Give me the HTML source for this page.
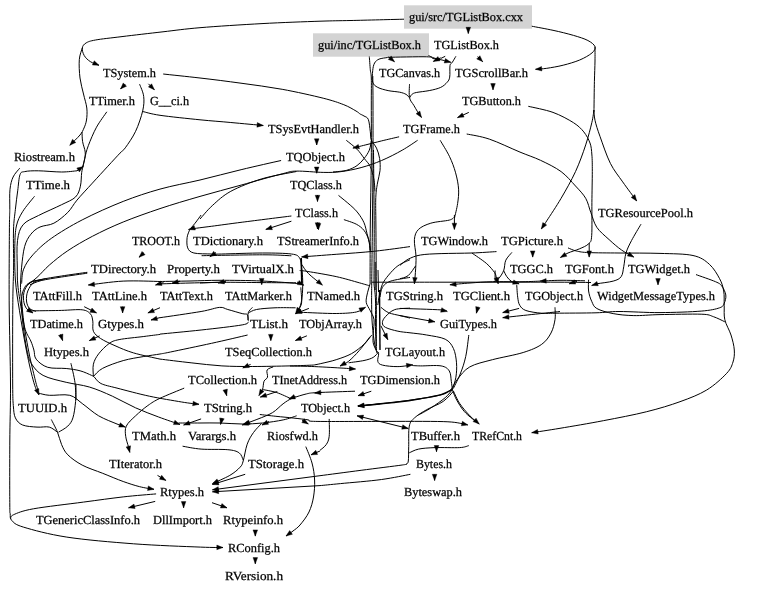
<!DOCTYPE html>
<html><head><meta charset="utf-8"><title>TGListBox dependency graph</title>
<style>html,body{margin:0;padding:0;background:#fff}svg{display:block;will-change:transform}text{text-rendering:geometricPrecision;stroke:#000;stroke-width:0.25px}text{font-family:"Liberation Serif",serif;font-size:12.4px;fill:#000}</style></head><body>
<svg width="779" height="592" viewBox="0 0 779 592">
<rect width="779" height="592" fill="#fff"/>
<rect x="404" y="5.3" width="128" height="23.4" fill="#d3d3d3"/>
<rect x="313" y="33.3" width="116" height="23.4" fill="#d3d3d3"/>
<g fill="none" stroke="#000" stroke-width="1.0">
<path d="M404.0,19.2 C395.2,19.4 365.0,20.2 351.0,20.5 C337.0,20.8 334.8,20.7 320.0,21.2 C305.2,21.7 282.0,22.5 262.0,23.6 C242.0,24.7 216.5,26.3 200.0,27.7 C183.5,29.1 176.0,30.3 163.0,31.8 C150.0,33.3 133.2,35.2 122.0,36.6 C110.8,38.0 101.5,38.9 95.5,40.0 C89.5,41.1 88.2,41.7 86.0,43.0 C83.8,44.3 82.6,45.9 82.3,48.0 C82.0,50.1 82.9,53.2 84.2,55.5 C85.5,57.8 87.8,60.0 90.3,61.6 C92.8,63.2 97.5,64.7 99.0,65.3"/>
<path d="M82.3,48.0 C81.8,49.9 79.7,54.6 79.3,59.6 C78.9,64.6 79.3,72.3 80.0,78.0 C80.7,83.7 82.4,89.0 83.5,94.0 C84.6,99.0 86.3,103.7 86.8,108.0 C87.3,112.3 87.0,116.7 86.5,120.0 C86.0,123.3 85.1,125.5 84.0,128.0 C82.9,130.5 82.4,132.1 80.0,135.0 C77.6,137.9 71.5,143.6 69.8,145.3"/>
<path d="M82.0,132.0 C82.1,133.6 82.1,138.3 82.6,141.6 C83.1,144.9 84.9,148.9 85.2,152.0 C85.5,155.1 85.0,157.5 84.5,160.0 C84.0,162.5 82.8,165.8 82.5,167.0"/>
<path d="M125.2,84.2 L120.5,89.0"/>
<path d="M148.4,83.8 L154.4,89.8"/>
<path d="M163.2,74.0 C169.3,74.7 187.0,76.5 200.0,78.0 C213.0,79.5 227.3,81.3 241.0,83.2 C254.7,85.1 268.5,86.8 282.2,89.3 C295.9,91.8 312.9,95.6 323.2,98.2 C333.5,100.8 338.3,102.6 343.8,104.7 C349.3,106.8 353.3,109.5 356.0,111.0 C358.7,112.5 359.3,113.5 360.0,114.0"/>
<path d="M468.3,27.5 L468.3,33.5"/>
<path d="M388.7,56.8 L394.5,61.7"/>
<path d="M387.5,57.3 C394.0,57.2 419.0,56.6 426.6,56.8 C434.2,57.0 430.8,58.0 433.0,58.5 C435.2,59.0 438.8,59.8 440.0,60.0"/>
<path d="M440.7,57.8 L433.3,61.4"/>
<path d="M445.2,56.3 L440.7,58.5"/>
<path d="M428.5,55.5 C429.4,55.9 431.8,57.2 434.0,58.0 C436.2,58.8 439.2,59.3 442.0,60.0 C444.8,60.7 449.3,61.9 450.8,62.3"/>
<path d="M455.9,56.3 C455.3,57.3 453.3,60.8 452.3,62.3 C451.3,63.8 450.4,63.0 450.0,65.5 C449.6,68.0 450.2,74.3 449.7,77.1 C449.2,79.9 448.7,80.5 447.2,82.2 C445.7,83.9 443.7,86.0 440.7,87.4 C437.7,88.8 433.3,89.8 429.2,90.6 C425.1,91.4 419.2,91.9 416.3,92.5 C413.4,93.1 413.0,93.6 411.9,94.4 C410.8,95.2 410.2,97.1 409.9,97.6"/>
<path d="M387.5,57.5 C386.1,57.8 381.2,58.2 379.1,59.1 C377.0,60.0 375.7,61.1 374.6,63.0 C373.5,64.9 373.0,67.5 372.7,70.7 C372.4,73.9 371.8,79.4 372.7,82.2 C373.6,85.0 375.2,86.0 377.8,87.4 C380.4,88.8 384.5,89.8 388.1,90.6 C391.8,91.4 396.7,91.6 399.7,92.2 C402.7,92.8 404.5,93.5 406.1,94.4 C407.7,95.3 408.8,97.1 409.3,97.6"/>
<path d="M409.5,84.2 C409.5,86.4 408.8,94.1 409.5,97.6 C410.2,101.1 412.4,102.9 413.8,105.3 C415.2,107.7 416.3,109.8 417.6,111.8 C418.9,113.8 420.9,116.5 421.5,117.5"/>
<path d="M531.8,26.2 C535.3,26.9 546.0,28.8 553.0,30.3 C560.0,31.8 567.7,33.7 573.5,35.4 C579.3,37.1 584.3,38.6 587.9,40.5 C591.5,42.4 594.3,44.6 595.0,46.7 C595.7,48.8 594.5,50.7 592.0,52.9 C589.5,55.1 584.5,58.0 579.7,60.0 C574.9,62.0 568.7,63.8 563.2,65.2 C557.7,66.6 551.4,67.6 546.8,68.3 C542.2,69.0 537.4,69.1 535.5,69.3"/>
<path d="M595.0,46.7 C595.0,49.1 595.1,55.2 595.0,61.0 C594.9,66.8 594.6,73.7 594.4,81.6 C594.2,89.5 594.1,103.2 594.0,108.3 C593.9,113.4 593.9,111.4 593.9,112.0"/>
<path d="M477.6,56.6 L482.7,61.7"/>
<path d="M493.0,83.7 L493.0,89.8"/>
<path d="M468.8,112.4 L457.5,117.6"/>
<path d="M528.3,106.3 C532.4,107.3 545.5,109.7 553.0,112.4 C560.5,115.1 568.4,119.5 573.5,122.7 C578.6,126.0 581.0,128.5 583.8,131.9 C586.5,135.3 588.6,139.2 590.0,143.0 C591.4,146.8 591.5,150.2 591.9,155.0 C592.3,159.8 592.3,163.7 592.3,171.6 C592.3,179.5 592.0,191.8 591.9,202.4 C591.8,213.1 592.2,228.6 591.7,235.5 C591.2,242.4 590.7,241.6 588.6,243.8 C586.5,246.0 582.7,247.4 579.3,248.9 C575.9,250.4 571.1,251.6 568.0,253.0 C564.9,254.4 561.7,256.8 560.4,257.5"/>
<path d="M589.2,243.0 L589.2,257.1"/>
<path d="M593.9,110.0 C594.1,111.7 594.0,115.8 595.0,120.3 C596.0,124.8 597.5,129.5 600.1,136.7 C602.7,143.9 606.6,155.9 610.4,163.4 C614.2,170.9 618.3,175.6 622.7,181.9 C627.1,188.2 634.4,197.8 636.7,201.0"/>
<path d="M593.9,110.0 C593.6,112.0 593.3,116.5 591.9,122.3 C590.5,128.1 588.4,136.7 585.7,144.9 C583.0,153.1 579.6,162.7 575.5,171.6 C571.4,180.5 565.9,190.1 561.1,198.3 C556.3,206.5 550.0,215.8 546.7,220.9 C543.4,226.0 542.2,227.7 541.3,229.0"/>
<path d="M466.7,134.0 C470.5,134.8 480.4,136.1 489.3,139.1 C498.2,142.1 511.5,148.6 520.0,152.1 C528.5,155.6 533.6,157.1 540.5,160.3 C547.4,163.6 555.3,167.3 561.1,171.6 C566.9,175.9 571.4,181.6 575.5,186.0 C579.6,190.4 583.1,193.9 585.7,198.3 C588.3,202.8 589.0,207.9 590.9,212.7 C592.8,217.5 593.8,222.8 596.8,227.3 C599.8,231.8 605.0,235.8 609.1,239.6 C613.2,243.4 617.3,247.0 621.4,249.9 C625.5,252.8 631.7,255.9 633.8,257.1"/>
<path d="M641.0,224.2 C639.4,226.9 634.0,235.8 631.5,240.6 C629.0,245.4 627.3,248.7 626.0,253.0 C624.7,257.3 624.6,262.4 623.8,266.3 C623.0,270.2 623.0,274.1 621.2,276.6 C619.4,279.1 617.3,279.9 613.2,281.1 C609.1,282.3 600.4,283.1 596.8,283.8 C593.2,284.5 592.6,285.2 591.7,285.5"/>
<path d="M532.7,251.0 L532.7,257.1"/>
<path d="M568.0,247.9 C569.4,248.4 572.8,250.2 576.3,251.0 C579.8,251.8 581.9,252.3 589.0,252.6 C596.1,252.9 607.2,252.9 619.0,253.0 C630.8,253.1 647.7,253.0 660.0,253.4 C672.3,253.8 684.8,253.7 693.0,255.5 C701.2,257.3 705.0,260.4 709.4,264.3 C713.8,268.2 717.2,274.2 719.6,278.7 C722.0,283.1 722.9,286.6 723.7,291.0 C724.5,295.4 724.0,300.6 724.2,305.4 C724.4,310.2 723.7,314.8 724.8,319.7 C725.9,324.6 729.4,329.9 731.0,335.0 C732.6,340.1 734.0,345.5 734.3,350.0 C734.6,354.5 734.3,358.1 733.0,362.0 C731.7,365.9 731.1,368.6 726.7,373.3 C722.3,378.0 714.5,385.3 706.7,390.0 C698.9,394.7 690.0,398.1 680.0,401.7 C670.0,405.3 659.5,408.5 646.7,411.7 C633.9,414.9 617.8,417.9 603.3,420.7 C588.8,423.5 571.9,426.3 560.0,428.3 C548.1,430.3 536.4,432.0 531.7,432.7"/>
<path d="M696.0,274.6 C699.2,275.8 711.2,279.8 715.5,281.7 C719.8,283.6 720.0,283.7 721.7,285.9 C723.4,288.1 725.4,292.1 725.8,295.0 C726.2,297.9 725.2,301.2 724.2,303.3 C723.2,305.4 723.4,306.5 719.6,307.8 C715.8,309.1 711.1,310.3 701.2,311.1 C691.3,311.9 673.7,312.5 660.0,312.6 C646.3,312.7 629.7,311.5 619.0,311.5 C608.3,311.5 606.5,312.5 596.0,312.8 C585.5,313.1 564.8,313.1 555.7,313.2 C546.6,313.3 546.3,313.6 541.3,313.2 C536.3,312.8 529.5,311.8 525.9,310.5 C522.3,309.2 521.2,307.6 519.8,305.4 C518.4,303.2 518.2,300.6 517.7,297.2 C517.2,293.8 516.9,286.9 516.7,284.8"/>
<path d="M724.8,321.8 C722.9,320.9 717.4,318.0 713.5,316.7 C709.6,315.4 710.1,314.5 701.2,314.2 C692.3,313.9 671.2,314.4 660.0,314.6 C648.8,314.8 641.6,315.8 633.8,315.6 C626.0,315.4 619.4,314.8 613.2,313.6 C607.0,312.4 600.4,310.6 596.8,308.5 C593.2,306.4 593.1,304.2 591.7,301.3 C590.3,298.4 589.1,294.6 588.6,291.0 C588.1,287.4 588.6,281.6 588.6,279.7"/>
<path d="M658.0,279.0 L658.0,284.8"/>
<path d="M454.4,215.0 L454.4,229.4"/>
<path d="M454.4,217.0 C453.5,217.5 453.2,219.1 449.3,220.1 C445.4,221.1 435.9,221.6 430.8,223.2 C425.7,224.8 421.2,226.7 418.5,229.4 C415.8,232.1 414.8,235.1 414.4,239.6 C414.0,244.1 415.8,250.6 416.0,256.1 C416.2,261.6 415.7,267.9 415.4,272.5 C415.1,277.1 414.6,281.9 414.4,283.8"/>
<path d="M496.5,251.6 C492.4,251.8 481.1,252.7 471.9,253.0 C462.7,253.3 449.7,253.3 441.1,253.6 C432.5,253.9 426.0,254.1 420.5,255.0 C415.0,255.9 411.6,257.5 408.2,259.2 C404.8,260.9 401.4,264.3 400.0,265.3"/>
<path d="M415.5,266.0 C414.3,267.6 410.8,273.5 408.2,275.6 C405.6,277.7 401.4,278.2 400.0,278.7"/>
<path d="M471.9,253.0 C474.3,254.7 482.5,260.1 486.3,263.3 C490.1,266.6 492.8,270.1 494.5,272.5 C496.2,274.9 495.9,276.1 496.5,278.0 C497.1,279.9 497.9,282.8 498.2,283.8"/>
<path d="M495.1,270.5 L495.1,280.7"/>
<path d="M511.9,252.4 C510.9,253.7 507.2,257.2 505.8,260.2 C504.4,263.2 504.9,267.4 503.7,270.5 C502.5,273.6 500.2,276.8 498.6,278.7 C497.0,280.6 494.9,281.2 494.1,281.7"/>
<path d="M503.7,270.5 C504.2,271.5 505.4,274.7 506.8,276.6 C508.2,278.5 509.8,280.5 511.9,281.7 C513.9,282.9 517.9,283.4 519.1,283.8"/>
<path d="M591.0,282.5 C585.8,282.4 571.8,282.2 560.0,282.2 C548.2,282.1 533.3,282.2 520.0,282.2 C506.7,282.2 493.3,282.2 480.0,282.2 C466.7,282.2 453.3,282.2 440.0,282.2 C426.7,282.2 411.3,282.2 400.0,282.2 C388.7,282.2 376.7,282.2 372.0,282.2"/>
<path d="M577.0,281.3 L569.1,283.8"/>
<path d="M585.0,280.8 C580.8,280.7 567.5,280.2 560.0,280.3 C552.5,280.4 543.3,281.0 540.0,281.1"/>
<path d="M540.0,281.1 C537.2,281.2 530.9,281.6 523.0,281.7 C515.1,281.8 501.2,281.5 492.4,281.7 C483.6,281.9 477.1,282.5 470.0,283.0 C462.9,283.5 453.2,284.5 449.9,284.8"/>
<path d="M400.0,308.4 C406.9,308.6 433.2,309.4 441.1,309.9 C449.0,310.4 446.2,311.2 447.2,311.5"/>
<path d="M400.0,315.6 L434.9,321.8"/>
<path d="M478.0,306.8 L476.4,313.2"/>
<path d="M519.1,308.4 L502.7,312.6"/>
<path d="M560.0,311.5 C554.5,312.1 536.8,314.0 527.3,315.0 C517.8,316.0 506.8,317.2 502.7,317.7"/>
<path d="M399.1,136.8 C396.2,137.5 387.2,139.5 381.6,140.9 C376.0,142.3 370.0,143.8 365.2,145.0 C360.4,146.2 354.9,147.6 352.9,148.1"/>
<path d="M417.6,140.3 C415.0,142.0 408.2,146.8 402.2,150.2 C396.2,153.6 388.5,157.6 381.6,160.5 C374.8,163.4 368.0,165.7 361.1,167.6 C354.2,169.5 346.8,170.9 340.5,171.7 C334.2,172.5 330.5,172.5 323.2,172.4 C315.9,172.3 303.3,170.9 296.5,171.1 C289.7,171.3 291.4,171.5 282.2,173.8 C273.0,176.1 254.8,181.3 241.1,185.1 C227.4,188.9 213.5,192.5 200.0,196.4 C186.5,200.3 172.8,204.3 160.0,208.6 C147.2,212.9 134.5,217.4 123.2,222.0 C111.9,226.6 101.6,231.5 92.4,236.3 C83.2,241.1 75.0,245.9 67.8,250.7 C60.6,255.5 54.4,260.7 49.3,265.1 C44.2,269.6 40.8,274.0 37.0,277.4 C33.2,280.8 28.4,284.2 26.7,285.6"/>
<path d="M346.3,140.3 C348.1,141.8 354.0,146.2 357.0,149.2 C360.0,152.2 362.0,155.5 364.2,158.4 C366.4,161.3 368.7,163.2 370.3,166.6 C371.9,170.0 373.0,174.8 373.8,178.9 C374.6,183.0 374.8,189.2 375.0,191.3"/>
<path d="M371.3,140.9 C371.0,142.4 370.5,147.3 369.3,150.2 C368.1,153.1 366.2,155.8 364.2,158.4 C362.1,161.0 359.9,163.6 357.0,165.6 C354.1,167.6 350.7,169.2 346.7,170.3 C342.7,171.4 335.3,171.7 333.0,172.0"/>
<path d="M440.2,140.3 C441.7,143.0 446.8,150.9 449.4,156.3 C452.0,161.7 454.1,167.3 455.6,172.8 C457.1,178.3 458.3,184.1 458.6,189.2 C458.9,194.3 458.3,198.8 457.6,203.6 C456.9,208.4 455.0,215.6 454.5,218.0"/>
<path d="M142.7,111.5 C145.6,112.1 150.4,113.9 160.0,115.3 C169.6,116.7 188.2,118.6 200.0,119.8 C211.8,121.0 220.2,121.5 230.8,122.5 C241.4,123.5 257.9,125.0 263.3,125.5"/>
<path d="M316.7,139.5 L316.7,145.0"/>
<path d="M316.7,167.6 L316.7,173.2"/>
<path d="M317.5,195.0 L317.5,201.5"/>
<path d="M317.5,222.5 L317.5,229.0"/>
<path d="M281.1,160.5 C274.4,162.0 254.6,166.4 241.1,169.7 C227.6,172.9 213.5,176.8 200.0,180.0 C186.5,183.2 172.8,185.5 160.0,189.1 C147.2,192.7 136.2,196.3 123.2,201.4 C110.2,206.5 94.2,213.7 82.2,219.9 C70.2,226.1 59.5,232.6 51.3,238.4 C43.1,244.2 37.5,249.7 32.9,254.8 C28.3,259.9 25.5,264.4 23.6,269.2 C21.7,274.0 21.9,281.2 21.6,283.6"/>
<path d="M296.5,171.5 C290.7,172.7 272.6,175.6 261.6,178.9 C250.7,182.2 239.0,186.9 230.8,191.3 C222.6,195.8 217.4,201.0 212.3,205.6 C207.2,210.2 202.1,216.8 200.0,219.0"/>
<path d="M19.7,168.2 C18.6,169.7 14.7,173.5 13.1,177.0 C11.5,180.5 10.6,183.9 10.0,189.3 C9.4,194.7 9.9,202.5 9.8,209.3 C9.7,216.1 9.5,214.1 9.4,230.0 C9.3,245.9 9.0,279.2 9.2,305.0 C9.4,330.8 10.4,362.2 10.5,385.0 C10.6,407.8 9.9,422.0 9.8,442.0 C9.7,462.0 9.7,493.1 9.8,505.0 C9.9,517.0 9.9,511.1 10.2,513.7 C10.5,516.3 9.5,518.2 11.7,520.4 C13.9,522.6 14.2,524.3 23.4,527.1 C32.6,529.9 48.5,534.3 66.8,537.1 C85.1,539.9 111.2,542.1 133.5,543.8 C155.8,545.5 185.4,546.5 200.3,547.1 C215.2,547.7 219.2,547.4 223.0,547.5"/>
<path d="M77.0,170.8 C74.4,171.0 68.0,172.0 61.6,172.0 C55.2,172.0 44.6,170.9 38.5,170.8 C32.4,170.7 27.8,170.9 24.7,171.6 C21.6,172.2 21.2,171.5 20.0,174.7 C18.8,177.9 18.5,185.0 17.7,190.8 C16.9,196.6 16.1,202.8 15.4,209.3 C14.7,215.8 13.8,220.4 13.5,230.0 C13.2,239.6 13.7,257.0 13.6,267.0 C13.5,277.0 13.2,281.2 13.0,290.0 C12.8,298.8 12.8,304.2 12.7,320.0 C12.6,335.8 12.6,370.8 12.7,385.0 C12.8,399.2 12.9,400.0 13.3,405.5 C13.8,411.0 13.8,414.6 15.4,417.9 C16.9,421.1 19.0,423.5 22.6,425.0 C26.2,426.5 32.5,426.8 37.0,427.1 C41.5,427.5 45.9,426.2 49.3,427.1 C52.7,428.0 56.1,431.4 57.5,432.2"/>
<path d="M34.5,196.3 C32.5,198.9 25.6,206.8 22.6,211.7 C19.6,216.6 17.7,220.2 16.4,226.0 C15.1,231.8 15.0,237.6 14.8,246.6 C14.6,255.6 14.6,269.3 15.4,280.0 C16.2,290.7 17.6,298.8 19.5,310.8 C21.4,322.8 24.3,339.9 26.7,351.9 C29.1,363.9 31.8,375.5 33.9,382.7 C35.9,389.9 38.1,392.9 39.0,395.0"/>
<path d="M106.8,111.8 C105.1,114.4 99.6,121.6 96.5,127.2 C93.4,132.8 90.3,140.5 88.3,145.7 C86.3,150.9 85.5,155.1 84.7,158.5 C83.9,161.9 83.7,163.7 83.2,166.0 C82.7,168.3 82.2,169.0 81.7,172.4 C81.2,175.8 81.4,182.1 80.4,186.2 C79.4,190.3 78.6,193.9 75.5,197.0 C72.4,200.1 67.8,201.6 61.6,204.7 C55.4,207.8 44.9,212.2 38.5,215.5 C32.1,218.8 26.6,220.5 23.1,224.7 C19.6,228.9 18.5,233.4 17.5,240.5 C16.5,247.6 17.2,259.6 17.3,267.0 C17.4,274.4 17.1,277.7 17.8,285.0 C18.5,292.3 19.8,299.7 21.6,310.8 C23.4,321.9 26.6,340.6 28.8,351.9 C31.0,363.2 33.4,372.2 34.9,378.6 C36.4,385.0 37.5,388.1 38.0,390.0"/>
<path d="M139.6,84.2 C140.3,86.2 143.2,92.0 143.7,96.5 C144.2,101.0 144.0,105.1 142.7,110.9 C141.3,116.7 138.5,125.2 135.6,131.3 C132.7,137.5 127.9,144.2 125.3,147.8 C122.7,151.4 122.9,150.0 120.0,153.1 C117.1,156.2 112.5,161.2 107.9,166.2 C103.3,171.2 97.6,177.4 92.4,183.1 C87.2,188.8 81.1,195.2 77.0,200.1 C72.9,205.0 71.6,208.6 67.8,212.4 C63.9,216.2 58.5,220.8 53.9,223.2 C49.3,225.6 43.9,225.2 40.0,227.0 C36.1,228.8 33.4,231.0 30.8,234.3 C28.2,237.6 26.1,241.1 24.6,246.6 C23.1,252.1 22.3,260.3 21.6,267.2 C20.9,274.1 20.5,282.1 20.5,287.7 C20.5,293.2 20.9,293.9 21.6,300.5 C22.3,307.1 23.1,320.4 24.6,327.2 C26.1,333.9 29.2,337.2 30.8,341.0 C32.4,344.8 33.0,347.0 33.9,350.0 C34.8,353.0 33.9,356.3 36.2,359.2 C38.5,362.1 42.7,365.8 47.7,367.3 C52.7,368.9 60.8,367.9 66.2,368.5 C71.6,369.1 75.9,369.7 80.1,370.8 C84.3,371.9 89.3,374.4 91.6,375.4 C93.9,376.4 92.4,375.2 93.9,376.6 C95.5,378.0 97.1,381.6 100.9,383.5 C104.8,385.4 108.9,386.0 117.0,388.1 C125.1,390.2 138.6,393.9 149.4,396.2 C160.2,398.5 173.4,400.6 181.7,402.0 C190.0,403.4 196.1,403.9 199.0,404.3"/>
<path d="M87.3,272.3 C83.0,272.9 69.3,274.8 61.6,276.0 C53.9,277.2 46.6,278.3 41.1,279.5 C35.6,280.7 31.7,281.5 28.8,283.2 C25.9,284.9 24.8,286.9 23.6,289.7 C22.4,292.5 21.8,294.8 21.6,300.0 C21.4,305.2 21.7,312.7 22.6,321.0 C23.5,329.3 25.4,342.9 26.9,350.0 C28.4,357.1 28.9,359.7 31.6,363.9 C34.3,368.1 37.3,372.3 43.1,375.4 C48.9,378.5 58.5,380.4 66.2,382.3 C73.9,384.2 81.6,384.7 89.3,387.0 C97.0,389.3 104.7,392.7 112.4,396.2 C120.1,399.7 127.8,404.3 135.5,407.8 C143.2,411.3 151.2,414.2 158.6,417.0 C166.0,419.8 176.4,423.2 180.0,424.5"/>
<path d="M143.8,252.8 L139.0,257.3"/>
<path d="M160.0,281.5 C153.9,281.4 135.2,280.5 123.2,281.1 C111.2,281.7 94.1,284.4 88.3,285.0"/>
<path d="M41.0,280.0 C39.3,280.3 33.5,280.3 30.8,282.0 C28.1,283.7 25.8,287.2 24.6,290.3 C23.4,293.4 23.2,297.4 23.6,300.5 C24.0,303.6 25.1,306.7 26.7,308.8 C28.2,310.9 31.9,312.2 32.9,312.9"/>
<path d="M30.0,311.0 C31.2,311.0 31.7,310.9 37.0,310.8 C42.3,310.7 54.1,310.6 61.6,310.4 C69.1,310.2 77.4,309.2 82.2,309.8 C87.0,310.4 88.6,312.0 90.4,313.9 C92.2,315.8 92.3,318.2 92.8,321.1 C93.3,324.0 92.1,328.4 93.4,331.3 C94.7,334.2 97.0,336.1 100.6,338.5 C104.2,340.9 109.5,343.3 115.0,345.7 C120.5,348.1 126.0,350.7 133.5,352.9 C141.0,355.1 155.6,358.1 160.0,359.1"/>
<path d="M84.2,306.7 L96.5,312.9"/>
<path d="M122.6,306.7 L122.6,312.9"/>
<path d="M160.0,307.7 L147.9,312.9"/>
<path d="M160.0,317.6 L151.0,320.0"/>
<path d="M60.6,334.4 L62.6,340.6"/>
<path d="M99.6,335.9 L89.3,340.6"/>
<path d="M93.4,376.5 C93.4,374.4 92.5,368.0 93.4,364.2 C94.3,360.4 96.0,357.3 98.6,353.9 C101.2,350.5 105.5,346.1 108.9,343.7 C112.3,341.3 113.3,340.8 119.1,339.6 C124.9,338.4 137.0,337.4 143.8,336.5 C150.6,335.6 157.3,334.8 160.0,334.4"/>
<path d="M93.4,376.5 C95.0,375.1 97.7,370.9 102.7,368.3 C107.7,365.7 116.3,362.6 123.2,360.6 C130.1,358.6 137.7,357.6 143.8,356.5 C149.9,355.4 155.6,354.8 160.0,354.0 C164.4,353.2 161.9,353.8 170.5,352.0 C179.1,350.2 198.8,346.1 211.6,343.3 C224.4,340.5 241.6,336.4 247.6,335.0"/>
<path d="M70.9,363.2 C71.6,366.4 74.2,376.6 75.0,382.7 C75.8,388.8 75.8,397.1 76.0,400.0"/>
<path d="M77.0,170.8 L83.2,166.5"/>
<path d="M39.0,393.2 C40.7,393.6 44.2,394.9 49.3,395.3 C54.4,395.7 64.3,393.9 69.8,395.3 C75.3,396.7 77.4,400.1 82.2,403.5 C87.0,406.9 92.8,412.4 98.6,415.8 C104.4,419.2 112.5,422.1 117.0,424.0 C121.5,425.9 123.9,426.6 125.3,427.1"/>
<path d="M76.0,385.0 C75.9,387.7 76.1,395.9 75.6,401.4 C75.1,406.9 74.2,413.8 72.9,417.9 C71.6,422.0 70.2,423.7 67.8,426.1 C65.4,428.5 60.0,431.2 58.5,432.2"/>
<path d="M51.3,419.5 C52.3,421.6 55.8,428.0 57.5,432.2 C59.2,436.4 59.9,440.8 61.6,444.6 C63.3,448.4 64.4,451.4 67.8,454.8 C71.2,458.2 76.4,462.0 82.2,465.1 C88.0,468.2 95.9,470.6 102.7,473.3 C109.5,476.0 117.0,479.3 123.2,481.5 C129.4,483.7 134.6,485.4 139.7,486.7 C144.8,488.0 151.6,488.9 154.0,489.3"/>
<path d="M184.2,388.1 C180.2,389.8 166.1,395.4 160.0,398.3 C153.9,401.2 152.0,402.6 147.9,405.5 C143.8,408.4 139.2,412.4 135.6,415.8 C132.0,419.2 127.9,422.7 126.3,426.1 C124.7,429.5 125.3,432.9 125.7,436.3 C126.1,439.7 127.7,443.9 128.4,446.6 C129.1,449.3 129.6,451.4 129.8,452.4"/>
<path d="M156.1,493.9 C150.6,494.4 135.3,495.5 123.2,496.9 C111.1,498.3 98.4,500.1 83.4,502.1 C68.4,504.1 45.1,506.7 33.4,508.8 C21.7,510.9 17.2,513.1 13.4,514.8 C9.6,516.5 11.1,518.1 10.7,518.8"/>
<path d="M155.2,501.4 L128.5,507.8"/>
<path d="M183.6,502.0 L183.6,507.8"/>
<path d="M212.0,502.7 L227.0,507.8"/>
<path d="M255.3,530.5 L255.3,536.1"/>
<path d="M255.3,558.0 L255.3,563.8"/>
<path d="M157.5,475.4 L165.9,480.4"/>
<path d="M225.3,390.1 L226.7,395.7"/>
<path d="M201.1,418.9 L183.6,425.0"/>
<path d="M296.6,415.8 C294.4,416.5 288.9,418.7 283.2,419.9 C277.5,421.1 269.5,422.3 262.7,423.0 C255.9,423.7 249.3,424.0 242.2,424.0 C235.1,424.0 227.0,423.2 220.0,423.0 C213.0,422.8 206.9,423.0 200.0,423.0 C193.1,423.0 182.1,423.0 178.5,423.0"/>
<path d="M222.0,418.0 L220.6,424.4"/>
<path d="M249.0,422.8 L242.2,425.0"/>
<path d="M269.0,421.5 L262.0,425.0"/>
<path d="M302.0,420.0 L308.3,424.0"/>
<path d="M261.6,423.5 C260.2,425.0 255.9,429.1 253.5,432.5 C251.1,435.9 248.9,439.4 247.2,444.2 C245.5,448.9 244.4,457.2 243.2,461.0 C242.0,464.8 242.3,464.8 240.1,467.2 C237.9,469.6 234.4,472.7 229.8,475.4 C225.2,478.1 215.3,482.2 212.4,483.6"/>
<path d="M182.6,446.2 C185.7,446.7 193.6,448.5 201.1,449.1 C208.6,449.7 221.5,449.1 227.8,449.7 C234.1,450.3 236.5,451.1 239.1,452.8 C241.7,454.5 242.5,458.8 243.2,460.0"/>
<path d="M245.2,474.3 L212.4,484.5"/>
<path d="M320.0,475.7 L212.4,489.8"/>
<path d="M320.0,485.6 L212.4,491.8"/>
<path d="M305.8,446.6 C306.8,449.3 310.5,457.4 312.0,463.0 C313.5,468.6 314.4,474.3 314.6,480.0 C314.9,485.7 314.4,491.7 313.5,497.0 C312.6,502.3 311.2,507.3 309.0,512.0 C306.8,516.7 302.7,521.8 300.0,525.0 C297.3,528.2 295.3,529.2 293.0,531.0 C290.7,532.8 287.2,535.2 286.0,536.0"/>
<path d="M320.0,451.0 L311.0,454.8"/>
<path d="M451.4,389.1 C450.0,390.0 448.0,392.7 443.2,394.2 C438.4,395.7 431.2,396.9 422.7,398.3 C414.1,399.7 402.7,401.2 391.9,402.5 C381.1,403.8 363.6,405.6 358.0,406.2"/>
<path d="M371.3,391.2 L358.0,395.7"/>
<path d="M357.0,415.8 L408.3,428.5"/>
<path d="M453.5,391.2 C451.8,392.9 447.6,398.3 443.2,401.4 C438.8,404.5 431.6,406.9 426.8,409.6 C422.0,412.4 417.4,415.1 414.5,417.9 C411.6,420.6 410.3,421.3 409.3,426.1 C408.3,430.9 408.9,440.8 408.7,446.6 C408.5,452.4 408.7,458.1 408.3,461.0 C407.9,463.9 407.5,463.1 406.5,463.8 C405.5,464.5 409.8,463.9 402.2,465.0 C394.6,466.1 374.8,468.5 361.1,470.3 C347.4,472.1 326.9,474.8 320.0,475.7"/>
<path d="M409.3,452.8 C410.9,452.2 414.3,450.0 418.6,449.1 C422.9,448.2 428.1,447.9 435.0,447.6 C441.9,447.4 454.1,447.9 459.7,447.6 C465.3,447.3 467.4,445.9 468.9,445.6"/>
<path d="M436.5,446.0 L436.5,451.7"/>
<path d="M410.4,474.3 C405.6,475.2 393.2,477.9 381.6,479.5 C370.0,481.1 350.8,482.6 340.5,483.6 C330.2,484.6 323.4,485.3 320.0,485.6"/>
<path d="M434.6,474.7 L434.6,480.5"/>
<path d="M453.5,391.2 C454.5,393.2 457.0,399.4 459.7,403.5 C462.4,407.6 466.6,412.4 469.9,415.8 C473.1,419.2 477.6,422.6 479.2,424.0"/>
<path d="M329.2,418.9 C329.2,421.8 329.7,432.0 329.2,436.3 C328.7,440.6 327.7,442.3 326.2,444.6 C324.7,446.9 321.0,449.4 320.0,450.3"/>
<path d="M291.4,216.0 C283.2,217.0 255.5,220.5 242.2,222.2 C228.8,223.9 219.9,225.2 211.3,226.3 C202.7,227.4 194.6,228.4 190.8,229.0 C187.1,229.6 189.1,229.5 188.8,229.6"/>
<path d="M201.1,215.0 C200.2,216.2 197.7,219.8 196.0,222.0 C194.3,224.2 191.7,227.2 190.8,228.3"/>
<path d="M291.4,221.2 L265.8,229.4"/>
<path d="M189.8,229.4 C189.4,230.8 187.4,234.5 187.1,237.6 C186.8,240.7 186.6,245.3 187.7,247.9 C188.8,250.5 190.0,252.0 193.9,253.0 C197.8,254.0 206.7,253.8 211.3,254.0 C215.9,254.2 213.0,254.2 221.6,254.0 C230.2,253.8 251.1,253.0 262.7,253.0 C274.3,253.0 285.2,253.2 291.4,254.0 C297.6,254.8 298.0,255.7 299.7,258.1 C301.4,260.5 301.2,264.6 301.7,268.4 C302.2,272.2 302.6,275.9 302.7,280.7 C302.8,285.5 302.6,292.8 302.1,297.2 C301.6,301.6 300.8,304.7 299.7,307.4 C298.6,310.1 296.3,312.6 295.6,313.6"/>
<path d="M216.0,252.5 L209.9,256.7"/>
<path d="M410.0,246.6 C404.1,247.4 387.0,249.9 374.7,251.2 C362.4,252.5 348.4,253.4 336.2,254.3 C324.0,255.2 307.4,256.5 301.6,256.9"/>
<path d="M299.7,270.5 C301.1,270.7 301.8,270.5 307.9,271.5 C314.0,272.5 327.6,274.7 336.2,276.6 C344.8,278.5 353.6,281.2 359.3,282.8 C365.0,284.4 368.3,285.4 370.1,285.9"/>
<path d="M301.6,264.3 C302.8,265.9 305.0,270.1 308.5,273.6 C312.0,277.1 320.1,283.2 322.4,285.1"/>
<path d="M301.2,258.0 L301.8,283.0" stroke-width="1.6"/>
<path d="M301.7,283.8 C295.0,283.3 275.3,281.6 261.7,281.0 C248.1,280.4 231.9,280.3 220.0,280.3 C208.1,280.3 200.0,280.8 190.0,281.0 C180.0,281.2 165.0,281.4 160.0,281.5"/>
<path d="M296.0,282.8 C290.3,282.8 274.0,282.7 261.7,282.6 C249.4,282.5 232.3,282.2 222.0,282.3 C211.7,282.4 203.7,282.9 200.0,283.0"/>
<path d="M261.7,279.0 L261.7,284.6"/>
<path d="M297.0,282.0 L303.8,285.2"/>
<path d="M226.0,281.2 L218.0,283.0"/>
<path d="M180.0,281.2 L172.0,283.2"/>
<path d="M308.9,308.4 L295.6,313.6"/>
<path d="M248.3,320.8 C248.1,319.8 248.3,315.8 247.3,314.6 C246.3,313.4 245.4,314.5 242.2,313.6 C238.9,312.8 231.6,310.5 227.8,309.5 C224.0,308.5 224.1,307.1 219.6,307.4 C215.1,307.7 211.0,309.8 201.1,311.5 C191.2,313.2 166.8,316.7 160.0,317.7"/>
<path d="M252.4,307.4 C251.7,308.3 249.0,310.5 248.3,312.6 C247.6,314.7 248.1,318.8 248.0,320.0"/>
<path d="M248.3,321.8 C247.3,322.3 250.1,323.5 242.2,324.9 C234.3,326.3 214.8,328.5 201.1,330.0 C187.4,331.5 166.8,333.4 160.0,334.1"/>
<path d="M248.3,313.0 C249.7,312.4 252.1,310.4 256.5,309.5 C260.9,308.6 268.5,308.1 275.0,307.8 C281.5,307.5 292.2,307.8 295.6,307.8"/>
<path d="M318.5,223.5 L318.5,229.6"/>
<path d="M410.0,259.7 C408.0,260.7 401.5,263.2 397.9,265.8 C394.3,268.4 391.2,272.0 388.6,275.1 C386.0,278.2 383.9,281.0 382.4,284.3 C380.9,287.6 380.2,291.7 379.4,295.1 C378.6,298.6 378.1,303.4 377.8,305.0"/>
<path d="M410.0,277.4 C406.7,278.0 394.8,279.6 390.2,281.3 C385.6,283.0 384.1,284.8 382.4,287.4 C380.7,290.0 380.4,295.4 380.0,297.0"/>
<path d="M300.8,287.4 C300.9,289.9 302.0,299.0 301.6,302.7 C301.2,306.4 299.0,308.5 298.5,309.6"/>
<path d="M379.5,290.0 L380.0,350.0" stroke-width="1.4"/>
<path d="M370.0,284.0 C369.5,285.8 367.6,291.9 367.0,295.0 C366.4,298.1 365.8,300.1 366.3,302.7 C366.8,305.3 368.8,307.6 370.1,310.4 C371.4,313.2 373.5,315.8 374.0,319.7 C374.5,323.6 373.3,329.6 373.2,333.5 C373.1,337.4 372.7,340.0 373.2,342.8 C373.7,345.6 375.4,348.7 376.3,350.5 C377.2,352.3 378.4,351.8 378.6,353.6 C378.9,355.4 377.2,359.4 377.8,361.3 C378.4,363.2 379.0,364.2 382.4,365.1 C385.8,366.0 392.8,366.7 397.9,366.6 C402.9,366.6 410.2,365.1 412.7,364.8"/>
<path d="M300.8,312.3 C306.7,312.5 326.9,313.6 336.2,313.5 C345.4,313.4 351.4,313.0 356.3,312.0 C361.2,311.0 364.0,308.1 365.5,307.3"/>
<path d="M371.7,335.1 C370.4,336.6 367.4,341.2 364.0,344.3 C360.6,347.4 356.2,351.0 351.6,353.6 C347.0,356.2 341.3,358.0 336.2,359.7 C331.1,361.4 324.6,362.7 320.8,363.6 C317.0,364.5 314.4,364.9 313.1,365.1"/>
<path d="M370.1,336.6 C368.3,338.9 362.9,346.4 359.3,350.5 C355.7,354.6 351.8,358.7 348.6,361.3 C345.4,363.9 341.4,365.2 340.0,366.0"/>
<path d="M378.6,352.0 C377.7,352.9 375.6,356.0 373.2,357.4 C370.8,358.8 368.1,359.6 364.0,360.5 C359.9,361.4 351.2,362.4 348.6,362.8"/>
<path d="M290.0,366.0 C294.1,366.1 305.7,366.2 314.7,366.6 C323.7,367.0 337.1,367.8 343.9,368.2 C350.7,368.6 353.6,368.9 355.5,369.0"/>
<path d="M380.9,325.8 L387.8,339.7"/>
<path d="M410.0,308.1 C407.5,308.4 398.9,308.2 394.8,309.6 C390.7,311.0 387.6,314.4 385.5,316.6 C383.4,318.8 382.4,320.9 382.4,322.7 C382.4,324.5 382.9,326.0 385.5,327.4 C388.1,328.8 393.8,330.3 397.9,331.2 C402.0,332.1 405.2,332.2 410.0,332.8 C414.8,333.4 420.8,333.9 426.7,335.0 C432.6,336.1 440.8,337.0 445.2,339.2 C449.6,341.4 451.5,344.5 453.4,348.4 C455.3,352.3 456.1,358.0 456.5,362.8 C456.9,367.6 456.6,372.8 455.9,377.2 C455.2,381.6 453.0,387.4 452.4,389.5"/>
<path d="M380.9,307.3 C382.2,308.2 385.3,311.3 388.6,312.7 C391.9,314.1 397.3,314.9 400.9,315.8 C404.5,316.7 408.5,317.7 410.0,318.1"/>
<path d="M306.9,335.8 L295.4,340.5"/>
<path d="M160.0,359.1 C165.2,359.7 180.8,361.7 191.1,362.8 C201.4,363.9 211.6,365.3 221.9,365.9 C232.2,366.5 241.3,366.5 252.7,366.5 C264.1,366.5 279.9,366.1 290.0,365.9 C300.1,365.7 309.2,365.2 313.0,365.1"/>
<path d="M250.6,364.4 L242.8,367.9"/>
<path d="M270.8,334.4 L270.8,340.6"/>
<path d="M273.2,366.9 C272.2,367.4 268.1,368.3 267.1,370.0 C266.2,371.7 268.0,375.3 267.5,377.2 C267.0,379.1 264.8,379.2 264.0,381.3 C263.2,383.4 263.4,387.1 262.5,389.5 C261.6,391.9 259.5,394.6 258.9,395.6"/>
<path d="M277.3,391.5 L260.3,397.1"/>
<path d="M468.8,335.0 C468.3,338.6 467.1,350.3 465.7,356.6 C464.3,362.9 462.7,367.7 460.6,373.0 C458.6,378.3 454.6,385.8 453.4,388.4"/>
<path d="M555.0,307.3 C555.0,309.4 555.7,315.3 555.0,319.6 C554.3,323.9 553.2,328.9 551.0,333.0 C548.8,337.1 546.3,341.1 541.7,344.3 C537.1,347.6 531.4,349.9 523.2,352.5 C515.0,355.1 501.3,357.3 492.4,359.7 C483.5,362.1 475.6,363.6 469.8,366.9 C464.0,370.1 460.6,375.4 457.5,379.2 C454.4,383.0 452.3,387.8 451.3,389.5"/>
<path d="M412.0,365.5 C413.4,365.6 415.6,365.8 420.5,365.9 C425.4,366.0 436.3,365.0 441.1,365.9 C445.9,366.8 447.6,368.4 449.3,371.0 C451.0,373.6 450.8,378.2 451.3,381.3 C451.8,384.4 452.2,388.1 452.4,389.5"/>
<path d="M452.4,389.5 C452.9,390.9 454.0,394.6 455.5,397.7 C457.0,400.8 459.6,405.1 461.6,408.0 C463.7,410.9 464.9,412.3 467.8,415.0 C470.7,417.7 477.3,422.5 479.2,424.0"/>
<path d="M452.4,389.5 C451.2,390.9 448.8,394.6 445.2,397.7 C441.6,400.8 435.2,405.1 430.8,408.0 C426.4,410.9 420.6,413.8 418.5,415.0"/>
<path d="M452.4,389.5 C450.5,390.4 446.4,393.1 441.1,394.6 C435.8,396.1 427.4,397.5 420.5,398.7 C413.6,399.9 410.4,400.6 400.0,401.8 C389.6,403.1 365.0,405.5 358.0,406.2" stroke-width="1.4"/>
<path d="M360.0,114.0 C360.7,114.3 362.6,115.1 364.0,116.0 C365.4,116.9 367.2,116.8 368.3,119.4 C369.4,122.0 369.8,128.3 370.3,131.7 C370.8,135.1 370.3,137.2 371.3,139.9 C372.3,142.6 375.1,145.0 376.5,148.1 C377.9,151.2 379.0,154.6 379.6,158.4 C380.2,162.2 380.4,166.6 380.0,170.7 C379.6,174.8 378.2,178.6 377.5,183.0 C376.8,187.4 376.1,190.4 375.8,197.4 C375.5,204.4 375.8,210.6 375.9,225.0 C376.0,239.4 376.2,263.8 376.3,284.0 C376.4,304.2 376.3,335.7 376.3,346.0"/>
<path d="M369.3,56.5 C369.5,58.7 370.0,66.2 370.3,69.8 C370.6,73.4 371.1,72.1 371.3,78.0 C371.5,83.9 371.3,91.3 371.3,105.0 C371.3,118.7 371.5,140.0 371.3,160.0 C371.1,180.0 370.5,204.3 370.3,225.0 C370.1,245.7 370.1,274.2 370.1,284.0"/>
<path d="M372.8,76.0 C372.8,80.8 373.0,91.0 373.0,105.0 C373.0,119.0 373.1,140.0 373.0,160.0 C372.9,180.0 372.6,204.3 372.4,225.0 C372.2,245.7 371.8,274.2 371.7,284.0"/>
<path d="M373.5,150.0 C373.6,162.5 374.1,202.7 374.2,225.0 C374.3,247.3 374.0,274.2 374.0,284.0"/>
<path d="M338.5,195.4 C340.6,197.1 347.6,202.7 350.8,205.6 C354.1,208.5 355.8,210.2 358.0,213.0 C360.2,215.8 362.5,219.3 364.0,222.7 C365.5,226.1 366.1,230.2 367.0,233.5 C367.9,236.8 368.8,239.6 369.4,242.7 C370.0,245.8 370.3,250.4 370.5,252.0"/>
<path d="M343.9,219.6 C346.0,220.4 352.9,222.4 356.3,224.2 C359.7,226.0 361.9,227.8 364.0,230.4 C366.1,233.0 367.6,236.4 368.6,239.7 C369.6,243.0 369.9,248.6 370.1,250.4"/>
<path d="M355.0,391.2 C348.7,391.4 325.4,392.2 317.3,392.6 C309.2,393.1 310.7,392.9 306.5,393.9 C302.3,394.9 296.0,396.8 292.1,398.4 C288.2,400.0 286.4,401.4 283.1,403.8 C279.8,406.2 276.6,410.2 272.4,412.7 C268.2,415.2 262.8,417.1 258.0,419.0 C253.2,420.9 246.0,423.5 243.6,424.4"/>
<path d="M322.0,392.4 L314.6,393.0"/>
<path d="M295.5,396.5 L288.9,398.9"/>
<path d="M262.5,389.5 C264.9,390.0 272.2,391.1 276.8,392.6 C281.4,394.1 288.1,397.4 290.3,398.4"/>
<path d="M259.8,414.5 C262.5,414.8 270.2,415.7 275.9,416.3 C281.6,416.9 288.5,417.5 293.9,418.1 C299.3,418.7 304.7,419.3 308.3,419.9 C311.9,420.4 303.6,421.1 315.5,421.4 C327.4,421.6 358.7,421.4 380.0,421.4 C401.3,421.4 429.2,421.2 443.2,421.6 C457.2,422.0 459.7,423.4 463.8,424.0 C467.9,424.6 467.2,424.8 467.9,425.0"/>
<path d="M380.0,403.8 L357.7,405.9"/>
<path d="M371.7,284.0 C371.7,286.7 371.6,294.0 371.6,300.0 C371.7,306.0 371.6,313.3 372.0,320.0 C372.4,326.7 373.2,334.5 374.0,340.0 C374.8,345.5 376.5,350.8 377.0,353.0"/>
<path d="M374.0,284.0 C374.2,286.7 375.2,292.3 375.5,300.0 C375.8,307.7 375.3,321.7 375.5,330.0 C375.7,338.3 376.3,346.7 376.5,350.0"/>
<path d="M375.2,262.0 L375.2,290.0"/>
<path d="M378.0,270.0 L378.5,292.0"/>
<path d="M163.5,282.6 L155.5,285.0"/>
<path d="M157.0,284.0 C162.5,283.8 178.5,283.3 190.0,283.0 C201.5,282.7 220.0,282.3 226.0,282.2"/>
<path d="M201.6,255.7 C211.8,255.5 247.7,254.8 262.7,254.8 C277.7,254.8 286.6,255.6 291.4,255.8"/>
<path d="M46.0,278.6 C44.0,279.2 37.0,280.2 34.0,282.3 C31.0,284.4 29.1,287.9 27.8,291.0 C26.6,294.1 26.2,298.1 26.5,301.0 C26.8,303.9 27.9,306.8 29.5,308.5 C31.1,310.2 34.9,310.8 36.0,311.3"/>
<path d="M87.3,273.2 C83.0,273.8 69.3,275.8 61.6,277.0 C53.9,278.2 46.4,279.3 41.1,280.6 C35.8,281.9 31.9,284.1 30.0,284.8"/>
</g>
<g fill="#000" stroke="#000" stroke-width="0.4">
<path d="M99.0,65.3 L92.4,65.0 L94.2,60.8 Z"/>
<path d="M69.8,145.3 L72.5,139.3 L75.8,142.5 Z"/>
<path d="M120.5,89.0 L123.2,83.0 L126.5,86.2 Z"/>
<path d="M154.4,89.8 L148.4,87.0 L151.6,83.8 Z"/>
<path d="M468.3,33.5 L466.0,27.3 L470.6,27.3 Z"/>
<path d="M394.5,61.7 L388.3,59.5 L391.2,55.9 Z"/>
<path d="M433.3,61.4 L437.9,56.6 L439.9,60.8 Z"/>
<path d="M450.8,62.3 L444.2,63.0 L445.4,58.5 Z"/>
<path d="M421.5,117.5 L416.1,113.7 L419.9,111.1 Z"/>
<path d="M535.5,69.3 L541.5,66.5 L541.9,71.0 Z"/>
<path d="M482.7,61.7 L476.7,58.9 L479.9,55.7 Z"/>
<path d="M493.0,89.8 L490.7,83.6 L495.3,83.6 Z"/>
<path d="M457.5,117.6 L462.2,112.9 L464.1,117.1 Z"/>
<path d="M560.4,257.5 L564.6,252.4 L566.9,256.3 Z"/>
<path d="M589.2,257.1 L586.9,250.9 L591.5,250.9 Z"/>
<path d="M636.7,201.0 L631.2,197.4 L634.9,194.6 Z"/>
<path d="M541.3,229.0 L542.8,222.6 L546.7,225.1 Z"/>
<path d="M633.8,257.1 L627.3,256.0 L629.6,252.0 Z"/>
<path d="M591.7,285.5 L596.9,281.4 L598.3,285.7 Z"/>
<path d="M532.7,257.1 L530.4,250.9 L535.0,250.9 Z"/>
<path d="M531.7,432.7 L537.5,429.5 L538.2,434.0 Z"/>
<path d="M658.0,284.8 L655.7,278.6 L660.3,278.6 Z"/>
<path d="M454.4,229.4 L452.1,223.2 L456.7,223.2 Z"/>
<path d="M414.4,283.8 L412.7,277.4 L417.2,277.8 Z"/>
<path d="M498.2,283.8 L494.2,278.5 L498.7,277.2 Z"/>
<path d="M519.1,283.8 L512.5,284.3 L513.8,279.9 Z"/>
<path d="M569.1,283.8 L574.3,279.7 L575.7,284.1 Z"/>
<path d="M540.0,281.1 L546.1,278.6 L546.3,283.2 Z"/>
<path d="M449.9,284.8 L455.9,282.0 L456.3,286.5 Z"/>
<path d="M447.2,311.5 L440.6,312.2 L441.8,307.7 Z"/>
<path d="M434.9,321.8 L428.4,323.0 L429.2,318.5 Z"/>
<path d="M476.4,313.2 L475.7,306.6 L480.1,307.7 Z"/>
<path d="M502.7,312.6 L508.1,308.8 L509.3,313.3 Z"/>
<path d="M502.7,317.7 L508.6,314.7 L509.1,319.3 Z"/>
<path d="M352.9,148.1 L358.3,144.4 L359.5,148.8 Z"/>
<path d="M263.3,125.5 L256.9,127.2 L257.3,122.6 Z"/>
<path d="M316.7,145.0 L314.4,138.8 L319.0,138.8 Z"/>
<path d="M316.7,173.2 L314.4,167.0 L319.0,167.0 Z"/>
<path d="M317.5,201.5 L315.2,195.3 L319.8,195.3 Z"/>
<path d="M317.5,229.0 L315.2,222.8 L319.8,222.8 Z"/>
<path d="M223.0,547.5 L216.8,549.7 L216.8,545.1 Z"/>
<path d="M39.0,395.0 L34.5,390.2 L38.7,388.4 Z"/>
<path d="M199.0,404.3 L192.6,405.8 L193.2,401.2 Z"/>
<path d="M180.0,424.5 L173.4,424.6 L174.9,420.3 Z"/>
<path d="M139.0,257.3 L142.0,251.4 L145.1,254.7 Z"/>
<path d="M88.3,285.0 L94.2,282.0 L94.7,286.6 Z"/>
<path d="M32.9,312.9 L26.5,311.4 L29.0,307.6 Z"/>
<path d="M96.5,312.9 L89.9,312.2 L92.0,308.1 Z"/>
<path d="M122.6,312.9 L120.3,306.7 L124.9,306.7 Z"/>
<path d="M147.9,312.9 L152.7,308.3 L154.5,312.6 Z"/>
<path d="M151.0,320.0 L156.4,316.2 L157.6,320.6 Z"/>
<path d="M62.6,340.6 L58.5,335.4 L62.9,334.0 Z"/>
<path d="M89.3,340.6 L94.0,335.9 L95.9,340.1 Z"/>
<path d="M83.2,166.5 L79.4,171.9 L76.8,168.1 Z"/>
<path d="M125.3,427.1 L118.7,427.1 L120.3,422.8 Z"/>
<path d="M154.0,489.3 L147.5,490.5 L148.3,485.9 Z"/>
<path d="M129.8,452.4 L126.1,446.9 L130.6,445.8 Z"/>
<path d="M128.5,507.8 L134.0,504.1 L135.1,508.6 Z"/>
<path d="M183.6,507.8 L181.3,501.6 L185.9,501.6 Z"/>
<path d="M227.0,507.8 L220.4,508.0 L221.9,503.6 Z"/>
<path d="M255.3,536.1 L253.0,529.9 L257.6,529.9 Z"/>
<path d="M255.3,563.8 L253.0,557.6 L257.6,557.6 Z"/>
<path d="M165.9,480.4 L159.4,479.2 L161.7,475.3 Z"/>
<path d="M226.7,395.7 L223.0,390.2 L227.4,389.1 Z"/>
<path d="M183.6,425.0 L188.7,420.8 L190.2,425.1 Z"/>
<path d="M220.6,424.4 L219.7,417.9 L224.2,418.8 Z"/>
<path d="M242.2,425.0 L247.4,420.9 L248.8,425.3 Z"/>
<path d="M262.0,425.0 L266.5,420.2 L268.6,424.3 Z"/>
<path d="M308.3,424.0 L301.8,422.6 L304.3,418.7 Z"/>
<path d="M212.4,483.6 L217.0,478.9 L219.0,483.0 Z"/>
<path d="M212.4,484.5 L217.6,480.5 L219.0,484.9 Z"/>
<path d="M212.4,489.8 L218.2,486.7 L218.8,491.3 Z"/>
<path d="M212.4,491.8 L218.5,489.1 L218.7,493.7 Z"/>
<path d="M286.0,536.0 L289.7,530.5 L292.4,534.3 Z"/>
<path d="M311.0,454.8 L315.8,450.3 L317.6,454.5 Z"/>
<path d="M358.0,406.2 L363.9,403.2 L364.4,407.8 Z"/>
<path d="M358.0,395.7 L363.1,391.5 L364.6,395.9 Z"/>
<path d="M408.3,428.5 L401.7,429.2 L402.8,424.8 Z"/>
<path d="M357.0,415.8 L363.6,415.1 L362.5,419.5 Z"/>
<path d="M436.5,451.7 L434.2,445.5 L438.8,445.5 Z"/>
<path d="M434.6,480.5 L432.3,474.3 L436.9,474.3 Z"/>
<path d="M479.2,424.0 L473.0,421.6 L476.1,418.2 Z"/>
<path d="M188.8,229.6 L194.1,225.6 L195.4,230.0 Z"/>
<path d="M265.8,229.4 L271.0,225.3 L272.4,229.7 Z"/>
<path d="M295.6,313.6 L297.1,307.2 L300.9,309.7 Z"/>
<path d="M209.9,256.7 L213.7,251.3 L216.3,255.1 Z"/>
<path d="M301.6,256.9 L307.6,254.1 L308.0,258.7 Z"/>
<path d="M322.4,285.1 L316.2,282.9 L319.1,279.4 Z"/>
<path d="M261.7,284.6 L259.4,278.4 L264.0,278.4 Z"/>
<path d="M303.8,285.2 L297.2,284.6 L299.2,280.5 Z"/>
<path d="M218.0,283.0 L223.5,279.4 L224.6,283.9 Z"/>
<path d="M172.0,283.2 L177.5,279.5 L178.6,283.9 Z"/>
<path d="M295.6,313.6 L300.5,309.2 L302.2,313.5 Z"/>
<path d="M318.5,229.6 L316.2,223.4 L320.8,223.4 Z"/>
<path d="M412.7,364.8 L406.8,367.8 L406.3,363.3 Z"/>
<path d="M365.5,307.3 L361.0,312.2 L358.9,308.1 Z"/>
<path d="M340.0,366.0 L344.3,361.0 L346.5,365.0 Z"/>
<path d="M355.5,369.0 L349.2,370.9 L349.5,366.3 Z"/>
<path d="M387.8,339.7 L383.0,335.2 L387.1,333.1 Z"/>
<path d="M295.4,340.5 L300.3,336.0 L302.0,340.3 Z"/>
<path d="M242.8,367.9 L247.5,363.3 L249.4,367.5 Z"/>
<path d="M270.8,340.6 L268.5,334.4 L273.1,334.4 Z"/>
<path d="M258.9,395.6 L260.1,389.1 L264.0,391.4 Z"/>
<path d="M260.3,397.1 L265.5,393.0 L266.9,397.3 Z"/>
<path d="M243.6,424.4 L248.6,420.1 L250.2,424.4 Z"/>
<path d="M314.6,393.0 L320.6,390.2 L321.0,394.8 Z"/>
<path d="M288.9,398.9 L293.9,394.6 L295.5,398.9 Z"/>
<path d="M467.9,425.0 L461.3,425.8 L462.4,421.3 Z"/>
<path d="M357.7,405.9 L363.7,403.0 L364.1,407.6 Z"/>
<path d="M155.5,285.0 L160.8,281.0 L162.1,285.4 Z"/>
</g>
<text x="409" y="20.8" textLength="114" lengthAdjust="spacingAndGlyphs">gui/src/TGListBox.cxx</text>
<text x="318" y="48.8" textLength="103" lengthAdjust="spacingAndGlyphs">gui/inc/TGListBox.h</text>
<text x="434" y="48.8" textLength="65" lengthAdjust="spacingAndGlyphs">TGListBox.h</text>
<text x="103" y="76.8" textLength="53" lengthAdjust="spacingAndGlyphs">TSystem.h</text>
<text x="379" y="76.8" textLength="61" lengthAdjust="spacingAndGlyphs">TGCanvas.h</text>
<text x="455" y="76.8" textLength="73" lengthAdjust="spacingAndGlyphs">TGScrollBar.h</text>
<text x="89" y="104.8" textLength="46" lengthAdjust="spacingAndGlyphs">TTimer.h</text>
<text x="150" y="104.8" textLength="39" lengthAdjust="spacingAndGlyphs">G__ci.h</text>
<text x="462" y="104.8" textLength="59" lengthAdjust="spacingAndGlyphs">TGButton.h</text>
<text x="268" y="132.8" textLength="91" lengthAdjust="spacingAndGlyphs">TSysEvtHandler.h</text>
<text x="403" y="132.8" textLength="57" lengthAdjust="spacingAndGlyphs">TGFrame.h</text>
<text x="14" y="160.8" textLength="61" lengthAdjust="spacingAndGlyphs">Riostream.h</text>
<text x="286" y="160.8" textLength="59" lengthAdjust="spacingAndGlyphs">TQObject.h</text>
<text x="26" y="188.8" textLength="44" lengthAdjust="spacingAndGlyphs">TTime.h</text>
<text x="290" y="188.8" textLength="52" lengthAdjust="spacingAndGlyphs">TQClass.h</text>
<text x="295" y="216.8" textLength="43" lengthAdjust="spacingAndGlyphs">TClass.h</text>
<text x="598" y="216.8" textLength="95" lengthAdjust="spacingAndGlyphs">TGResourcePool.h</text>
<text x="132" y="244.8" textLength="48" lengthAdjust="spacingAndGlyphs">TROOT.h</text>
<text x="193" y="244.8" textLength="70" lengthAdjust="spacingAndGlyphs">TDictionary.h</text>
<text x="277" y="244.8" textLength="82" lengthAdjust="spacingAndGlyphs">TStreamerInfo.h</text>
<text x="421" y="244.8" textLength="67" lengthAdjust="spacingAndGlyphs">TGWindow.h</text>
<text x="501" y="244.8" textLength="62" lengthAdjust="spacingAndGlyphs">TGPicture.h</text>
<text x="91" y="272.8" textLength="65" lengthAdjust="spacingAndGlyphs">TDirectory.h</text>
<text x="167" y="272.8" textLength="53" lengthAdjust="spacingAndGlyphs">Property.h</text>
<text x="232" y="272.8" textLength="62" lengthAdjust="spacingAndGlyphs">TVirtualX.h</text>
<text x="510" y="272.8" textLength="43" lengthAdjust="spacingAndGlyphs">TGGC.h</text>
<text x="565" y="272.8" textLength="49" lengthAdjust="spacingAndGlyphs">TGFont.h</text>
<text x="628" y="272.8" textLength="62" lengthAdjust="spacingAndGlyphs">TGWidget.h</text>
<text x="33" y="299.8" textLength="49" lengthAdjust="spacingAndGlyphs">TAttFill.h</text>
<text x="92" y="299.8" textLength="55" lengthAdjust="spacingAndGlyphs">TAttLine.h</text>
<text x="160" y="299.8" textLength="53" lengthAdjust="spacingAndGlyphs">TAttText.h</text>
<text x="225" y="299.8" textLength="67" lengthAdjust="spacingAndGlyphs">TAttMarker.h</text>
<text x="307" y="299.8" textLength="53" lengthAdjust="spacingAndGlyphs">TNamed.h</text>
<text x="386" y="299.8" textLength="57" lengthAdjust="spacingAndGlyphs">TGString.h</text>
<text x="453" y="299.8" textLength="57" lengthAdjust="spacingAndGlyphs">TGClient.h</text>
<text x="525" y="299.8" textLength="58" lengthAdjust="spacingAndGlyphs">TGObject.h</text>
<text x="597" y="299.8" textLength="118" lengthAdjust="spacingAndGlyphs">WidgetMessageTypes.h</text>
<text x="30" y="327.8" textLength="53" lengthAdjust="spacingAndGlyphs">TDatime.h</text>
<text x="98" y="327.8" textLength="46" lengthAdjust="spacingAndGlyphs">Gtypes.h</text>
<text x="250" y="327.8" textLength="38" lengthAdjust="spacingAndGlyphs">TList.h</text>
<text x="299" y="327.8" textLength="63" lengthAdjust="spacingAndGlyphs">TObjArray.h</text>
<text x="440" y="327.8" textLength="57" lengthAdjust="spacingAndGlyphs">GuiTypes.h</text>
<text x="44" y="355.8" textLength="45" lengthAdjust="spacingAndGlyphs">Htypes.h</text>
<text x="225" y="355.8" textLength="87" lengthAdjust="spacingAndGlyphs">TSeqCollection.h</text>
<text x="385" y="355.8" textLength="60" lengthAdjust="spacingAndGlyphs">TGLayout.h</text>
<text x="188" y="383.8" textLength="69" lengthAdjust="spacingAndGlyphs">TCollection.h</text>
<text x="272" y="383.8" textLength="75" lengthAdjust="spacingAndGlyphs">TInetAddress.h</text>
<text x="360" y="383.8" textLength="80" lengthAdjust="spacingAndGlyphs">TGDimension.h</text>
<text x="18" y="411.8" textLength="49" lengthAdjust="spacingAndGlyphs">TUUID.h</text>
<text x="204" y="411.8" textLength="48" lengthAdjust="spacingAndGlyphs">TString.h</text>
<text x="301" y="411.8" textLength="49" lengthAdjust="spacingAndGlyphs">TObject.h</text>
<text x="132" y="439.8" textLength="44" lengthAdjust="spacingAndGlyphs">TMath.h</text>
<text x="188" y="439.8" textLength="48" lengthAdjust="spacingAndGlyphs">Varargs.h</text>
<text x="267" y="439.8" textLength="51" lengthAdjust="spacingAndGlyphs">Riosfwd.h</text>
<text x="411" y="439.8" textLength="49" lengthAdjust="spacingAndGlyphs">TBuffer.h</text>
<text x="472" y="439.8" textLength="50" lengthAdjust="spacingAndGlyphs">TRefCnt.h</text>
<text x="109" y="467.8" textLength="53" lengthAdjust="spacingAndGlyphs">TIterator.h</text>
<text x="248" y="467.8" textLength="56" lengthAdjust="spacingAndGlyphs">TStorage.h</text>
<text x="416" y="467.8" textLength="36" lengthAdjust="spacingAndGlyphs">Bytes.h</text>
<text x="160" y="495.8" textLength="44" lengthAdjust="spacingAndGlyphs">Rtypes.h</text>
<text x="404" y="495.8" textLength="58" lengthAdjust="spacingAndGlyphs">Byteswap.h</text>
<text x="36" y="523.8" textLength="104" lengthAdjust="spacingAndGlyphs">TGenericClassInfo.h</text>
<text x="153" y="523.8" textLength="59" lengthAdjust="spacingAndGlyphs">DllImport.h</text>
<text x="223" y="523.8" textLength="60" lengthAdjust="spacingAndGlyphs">Rtypeinfo.h</text>
<text x="228" y="551.8" textLength="52" lengthAdjust="spacingAndGlyphs">RConfig.h</text>
<text x="225" y="579.8" textLength="58" lengthAdjust="spacingAndGlyphs">RVersion.h</text>
</svg></body></html>
